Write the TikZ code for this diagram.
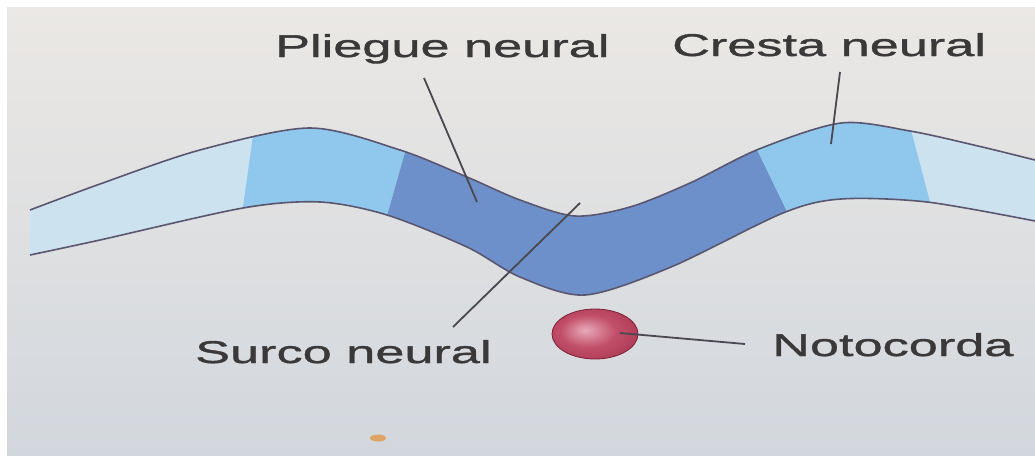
\documentclass[tikz,border=0pt]{standalone}
\usepackage{fontspec}
\newfontfamily\lbl[FakeStretch=1.66, FakeBold=1.2]{Liberation Sans}
\usetikzlibrary{shapes.geometric}

% paper and band colours
\definecolor{paperTop}{HTML}{EBE8E5}
\definecolor{paperBot}{HTML}{D2D7DD}
\definecolor{palecell}{HTML}{CCE2EF}
\definecolor{midcell}{HTML}{8FC8EC}
\definecolor{darkcell}{HTML}{6D90CB}
\definecolor{edgeline}{HTML}{5B5670}
\definecolor{leadline}{HTML}{4A4850}
\definecolor{labeltext}{HTML}{3A3838}
% notochord colours
\definecolor{notohl}{HTML}{E8AABA}
\definecolor{notomid}{HTML}{C24F69}
\definecolor{notodark}{HTML}{A02C48}
\definecolor{notoedge}{HTML}{7E1F36}
\pgfdeclareradialshading{notoshade}{\pgfpoint{-6bp}{4bp}}{%
  color(0bp)=(notohl); color(16bp)=(notomid); color(40bp)=(notodark); color(50bp)=(notoedge)}

\tikzset{
  label/.style={font=\lbl\fontsize{31.5}{38}\selectfont, text=labeltext, inner sep=0pt, anchor=base west},
  lead/.style={draw=leadline, line width=1.8pt},
  rim/.style={draw=edgeline, line width=1.6pt},
  % upper and lower outline of the neural plate
  bandtop/.style={insert path={plot[smooth] coordinates {(30,210) (100,184) (200,150) (310,128) (400,150) (467,177) (520,200) (575,216) (630,207) (690,183) (759,149) (841,123) (910,131) (978,146) (1035,160)}}},
  bandbot/.style={insert path={plot[smooth] coordinates {(1035,221) (927,202) (841,199) (783,213) (671,267) (585,295) (520,277) (467,247) (387,215) (320,202) (243,208) (100,240) (30,255)}}},
  bandjoin/.style={insert path={-- plot[smooth] coordinates {(1035,221) (927,202) (841,199) (783,213) (671,267) (585,295) (520,277) (467,247) (387,215) (320,202) (243,208) (100,240) (30,255)} -- cycle}},
}

\begin{document}
\begin{tikzpicture}[x=1pt,y=-1pt]
\useasboundingbox (0,0) rectangle (1035,455);
\fill[white] (0,0) rectangle (1035,455);
\shade[top color=paperTop, bottom color=paperBot] (7,7) rectangle (1035,455);

% plate cells, clipped to the plate outline
\begin{scope}
  \clip[bandtop, bandjoin];
  \fill[palecell] (0,90) rectangle (1035,320);
  \fill[midcell] (258,100) -- (420,100) -- (363,300) -- (230,300) -- cycle;
  \fill[darkcell] (420,100) -- (733,100) -- (830,300) -- (363,300) -- cycle;
  \fill[midcell] (733,100) -- (903,100) -- (956,300) -- (830,300) -- cycle;
\end{scope}
\draw[rim, bandtop];
\draw[rim, bandbot];

% notochord
\node[ellipse, shading=notoshade, draw=notoedge, line width=0.8pt,
      minimum width=86pt, minimum height=50pt, inner sep=0pt] (noto) at (595,334) {};

% a small stain on the paper
\fill[orange!60!brown, opacity=0.6] (378,438) ellipse (8 and 3.5);

% labels
\node[label] (pliegue) at (275,57) {Pliegue neural};
\node[label] (cresta)  at (672,56) {Cresta neural};
\node[label] (surco)   at (195,363) {Surco neural};
\node[label] (notolbl) at (772,356) {Notocorda};

% leader lines
\coordinate (pliegueA) at (424,78);  \coordinate (pliegueB) at (477,202);
\coordinate (crestaA)  at (840,72);  \coordinate (crestaB)  at (831,144);
\coordinate (surcoA)   at (453,327); \coordinate (surcoB)   at (580,203);
\coordinate (notoIn)   at (620,333); \coordinate (notoOut)  at (745,344);
\draw[lead] (pliegueA) -- (pliegueB);
\draw[lead] (crestaA) -- (crestaB);
\draw[lead] (surcoA) -- (surcoB);
\draw[lead] (notoIn) -- (notoOut);
\end{tikzpicture}
\end{document}
